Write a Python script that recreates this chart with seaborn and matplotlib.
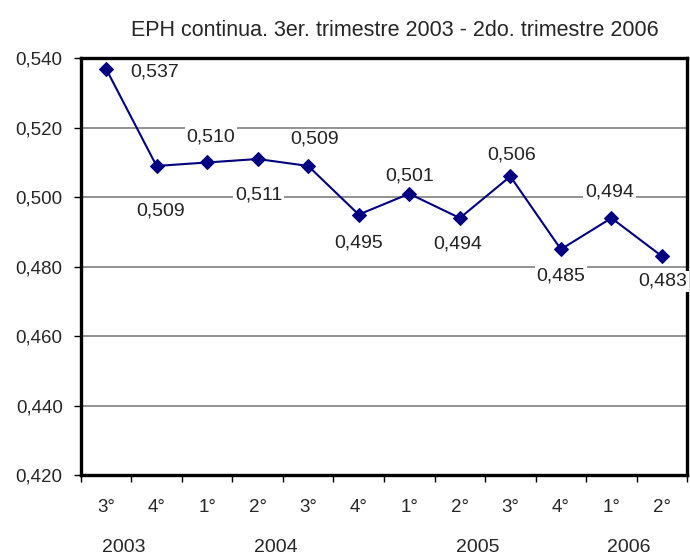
import matplotlib
matplotlib.use("Agg")
import matplotlib.pyplot as plt
import matplotlib.transforms as mtransforms
import seaborn as sns
import numpy as np
import pandas as pd

quarters = ["3°", "4°", "1°", "2°", "3°", "4°", "1°", "2°", "3°", "4°", "1°", "2°"]
years = ["2003", "2004", "2005", "2006"]
year_spans = [(0, 1), (2, 5), (6, 9), (10, 11)]
values = [0.537, 0.509, 0.510, 0.511, 0.509, 0.495, 0.501, 0.494, 0.506, 0.485, 0.494, 0.483]

# desplazamiento de cada etiqueta respecto del punto (px)
label_off_px = [(49, 3), (4, 45), (4, -25), (1, 36), (6, -27), (0, 28),
                (0, -18), (-2, 26), (1, -21), (0, 27), (-2, -26), (1, 25)]

sns.set_style("white")
plt.rcParams["font.family"] = ["Liberation Sans", "DejaVu Sans"]

df = pd.DataFrame({"pos": np.arange(len(values)), "valor": values})

fig = plt.figure(figsize=(6.9, 5.55), dpi=100)
ax = fig.add_axes([0.117, 0.144, 0.879, 0.751])

ax.set_ylim(0.420, 0.540)
ax.set_xlim(-0.5, len(values) - 0.5)
yt = np.arange(0.420, 0.5401, 0.020)
ax.set_yticks(yt)
ax.set_yticklabels([f"{v:.3f}".replace(".", ",") for v in yt], fontsize=13.5)
for v in yt[1:-1]:
    ax.axhline(v, color="#808080", lw=1.2, zorder=1)

sns.lineplot(data=df, x="pos", y="valor", marker="D", markersize=7.5,
             color="#000080", markeredgecolor="#000080", lw=1.5, ax=ax, zorder=4)

px2pt = 72 / 100
for i, (v, (dx, dy)) in enumerate(zip(values, label_off_px)):
    txt = f"{v:.3f}".replace(".", ",")
    ax.annotate(txt, (i, v), xytext=(dx * px2pt, -dy * px2pt), textcoords="offset points",
                ha="center", va="center", fontsize=14, color="#222222",
                bbox=dict(boxstyle="square,pad=0.1", fc="white", ec="none"),
                annotation_clip=False, zorder=5)

ax.set_xticks(np.arange(len(values)))
ax.set_xticklabels(quarters, fontsize=13.5)
ax.set_xticks(np.arange(-0.5, len(values)), minor=True)
ax.tick_params(axis="x", which="major", length=0, pad=17)
ax.tick_params(axis="x", which="minor", length=5, width=1, color="black", direction="out", bottom=True)
ax.tick_params(axis="y", length=5, width=1, color="black", direction="out", left=True, pad=8)

trans = mtransforms.blended_transform_factory(ax.transData, fig.transFigure)
for y, (a, b) in zip(years, year_spans):
    ax.text((a + b) / 2 - 0.15, 1 - 548 / 555, y, transform=trans, ha="center", va="center", fontsize=14)

for sp in ax.spines.values():
    sp.set_visible(True)
    sp.set_color("black")
    sp.set_linewidth(2.4)
    sp.set_zorder(2.5)

ax.set_xlabel("")
ax.set_ylabel("")
fig.text(395 / 690, 1 - 30 / 555, "EPH continua. 3er. trimestre 2003 - 2do. trimestre 2006",
         ha="center", va="center", fontsize=15.5)

fig.savefig("out.png", dpi=100)
